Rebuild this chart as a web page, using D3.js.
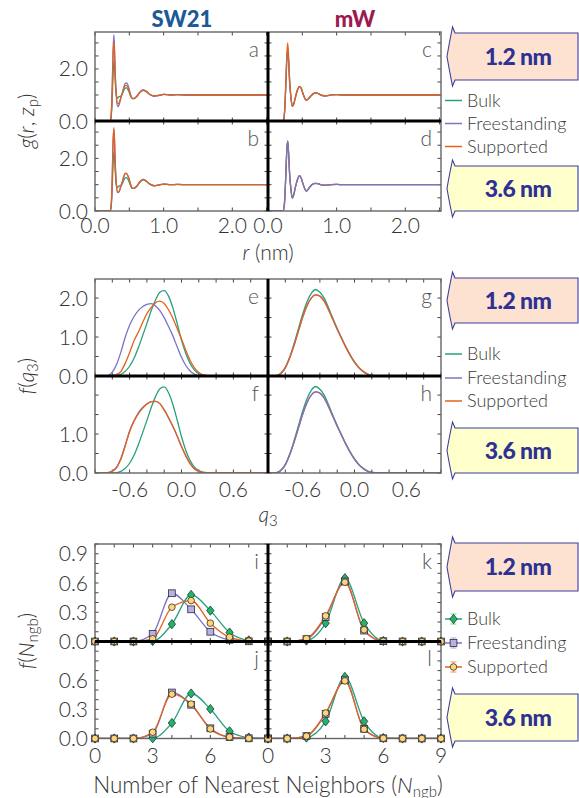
<!DOCTYPE html>
<html><head><meta charset="utf-8">
<script src="https://cdn.jsdelivr.net/npm/d3@7"></script>
<style>body{margin:0;background:#fff} text{font-family:Lato,"Open Sans","DejaVu Sans",sans-serif}</style>
</head><body><svg id="c" width="579" height="798"></svg>
<script>
// ---------- labels ----------
const models = ["SW21", "mW"];
const seriesNames = ["Bulk", "Freestanding", "Supported"];
const sizeLabels = ["1.2 nm", "3.6 nm"];
const panelLetters = [["a","b","c","d"], ["e","f","g","h"], ["i","j","k","l"]];

// ---------- g(r) data ----------
const rSW = [0, 0.22, 0.235, 0.25, 0.262, 0.275, 0.285, 0.295, 0.31, 0.33, 0.35, 0.375, 0.40, 0.42, 0.44, 0.46, 0.49, 0.52, 0.54, 0.57, 0.61, 0.65, 0.70, 0.75, 0.80, 0.86, 0.92, 1.0, 1.1, 1.2, 1.35, 1.6, 2.0, 2.52];
const gSW12Bulk = [0,0,0.15,0.8,1.7,2.3,2.1,1.5,1.0,0.88,0.94,0.96,1.05,1.18,1.26,1.27,1.15,0.95,0.86,0.87,0.95,1.08,1.18,1.12,1.02,0.96,0.98,1.02,1.0,1.01,1.0,1.0,1.0,1.0];
const gSW12Free = [0,0,0.2,1.2,2.6,3.32,2.7,1.8,0.95,0.55,0.62,0.85,1.1,1.3,1.44,1.46,1.3,1.0,0.87,0.86,0.95,1.1,1.2,1.14,1.02,0.96,0.98,1.02,1.0,1.01,1.0,1.0,1.0,1.0];
const gSW12Supp = [0,0,0.2,1.1,2.4,3.08,2.6,1.8,1.05,0.66,0.7,0.9,1.1,1.26,1.36,1.36,1.22,0.98,0.87,0.87,0.95,1.09,1.18,1.13,1.02,0.96,0.98,1.02,1.0,1.01,1.0,1.0,1.0,1.0];
const gSW36Bulk = [0,0,0.15,0.8,1.7,2.25,2.05,1.5,1.0,0.9,0.95,0.97,1.05,1.18,1.26,1.27,1.15,0.95,0.86,0.87,0.95,1.08,1.18,1.12,1.02,0.96,0.98,1.02,1.0,1.01,1.0,1.0,1.0,1.0];
const gSW36Free = [0,0,0.2,1.1,2.5,3.1,2.6,1.8,1.05,0.7,0.72,0.92,1.12,1.3,1.42,1.42,1.26,1.0,0.87,0.86,0.95,1.1,1.2,1.13,1.02,0.96,0.98,1.02,1.0,1.01,1.0,1.0,1.0,1.0];
const gSW36Supp = [0,0,0.2,1.15,2.55,3.17,2.65,1.8,1.05,0.72,0.74,0.93,1.13,1.32,1.44,1.43,1.27,1.0,0.87,0.86,0.95,1.1,1.2,1.13,1.02,0.96,0.98,1.02,1.0,1.01,1.0,1.0,1.0,1.0];

const rMW = [0, 0.22, 0.24, 0.26, 0.275, 0.287, 0.30, 0.315, 0.335, 0.355, 0.375, 0.40, 0.43, 0.456, 0.48, 0.51, 0.54, 0.56, 0.59, 0.63, 0.67, 0.70, 0.74, 0.79, 0.85, 0.92, 1.0, 1.1, 1.2, 1.35, 1.6, 2.0, 2.52];
const gMW12Bulk = [0,0,0.3,1.4,2.4,2.7,2.3,1.5,0.88,0.57,0.65,0.92,1.2,1.32,1.27,1.05,0.85,0.8,0.86,0.98,1.06,1.08,1.04,0.98,0.97,1.0,1.01,1.0,1.0,1.0,1.0,1.0,1.0];
const gMW12Free = [0,0,0.3,1.4,2.4,2.72,2.3,1.5,0.88,0.56,0.65,0.92,1.2,1.32,1.27,1.05,0.85,0.8,0.86,0.98,1.06,1.08,1.04,0.98,0.97,1.0,1.01,1.0,1.0,1.0,1.0,1.0,1.0];
const gMW12Supp = [0,0,0.3,1.5,2.6,3.0,2.5,1.6,0.9,0.57,0.65,0.92,1.2,1.33,1.28,1.05,0.85,0.8,0.86,0.98,1.07,1.09,1.05,0.98,0.97,1.0,1.01,1.0,1.0,1.0,1.0,1.0,1.0];
const gMW36Bulk = [0,0,0.3,1.4,2.35,2.64,2.2,1.4,0.8,0.5,0.62,0.92,1.2,1.33,1.27,1.03,0.82,0.76,0.84,0.98,1.04,1.05,1.03,0.98,0.98,1.0,1.01,1.0,1.0,1.0,1.0,1.0,1.0];
const gMW36Free = [0,0,0.3,1.4,2.36,2.66,2.2,1.4,0.8,0.49,0.62,0.92,1.2,1.34,1.27,1.03,0.82,0.76,0.84,0.98,1.04,1.05,1.03,0.98,0.98,1.0,1.01,1.0,1.0,1.0,1.0,1.0,1.0];
const gMW36Supp = [0,0,0.3,1.4,2.36,2.66,2.2,1.4,0.8,0.49,0.62,0.92,1.2,1.34,1.27,1.03,0.82,0.76,0.84,0.98,1.04,1.05,1.03,0.98,0.98,1.0,1.01,1.0,1.0,1.0,1.0,1.0,1.0];

// ---------- q3 distribution data ----------
const q3 = [-1.0,-0.95,-0.9,-0.85,-0.8,-0.75,-0.7,-0.65,-0.6,-0.55,-0.5,-0.45,-0.4,-0.35,-0.3,-0.25,-0.2,-0.15,-0.1,-0.05,0.0,0.05,0.1,0.15,0.2,0.25,0.3,0.35,0.4,0.5,1.0];
const fSW12Bulk = [0,0,0,0,0,0.01,0.04,0.12,0.25,0.45,0.72,1.03,1.35,1.68,1.95,2.15,2.19,2.05,1.75,1.35,0.92,0.58,0.32,0.15,0.06,0.02,0.005,0,0,0,0];
const fSW12Free = [0,0,0,0.01,0.1,0.3,0.62,1.0,1.3,1.52,1.68,1.78,1.84,1.86,1.8,1.68,1.5,1.27,1.03,0.75,0.48,0.27,0.13,0.05,0.015,0,0,0,0,0,0];
const fSW12Supp = [0,0,0,0,0.01,0.04,0.12,0.33,0.6,0.9,1.12,1.37,1.6,1.76,1.88,1.92,1.86,1.7,1.48,1.22,0.95,0.66,0.4,0.21,0.09,0.03,0.01,0,0,0,0];
const fSW36Bulk = [0,0,0,0,0,0.01,0.04,0.12,0.25,0.45,0.72,1.03,1.35,1.68,1.96,2.16,2.21,2.06,1.76,1.36,0.93,0.58,0.32,0.15,0.06,0.02,0.005,0,0,0,0];
const fSW36Free = [0,0,0,0.01,0.05,0.15,0.38,0.72,1.08,1.34,1.54,1.68,1.77,1.83,1.84,1.78,1.62,1.42,1.2,0.95,0.68,0.44,0.24,0.11,0.04,0.01,0,0,0,0,0];
const fSW36Supp = [0,0,0,0.01,0.04,0.14,0.36,0.7,1.06,1.32,1.52,1.66,1.77,1.83,1.84,1.78,1.62,1.42,1.2,0.95,0.68,0.44,0.24,0.11,0.04,0.01,0,0,0,0,0];
const fMW12Bulk = [0,0,0.01,0.07,0.22,0.48,0.82,1.2,1.58,1.9,2.12,2.22,2.15,2.0,1.75,1.48,1.22,0.98,0.74,0.53,0.35,0.21,0.11,0.05,0.015,0,0,0,0,0,0];
const fMW12Free = [0,0,0.01,0.07,0.21,0.46,0.78,1.14,1.5,1.8,2.0,2.08,2.05,1.92,1.7,1.45,1.2,0.97,0.74,0.54,0.36,0.22,0.12,0.05,0.02,0,0,0,0,0,0];
const fMW12Supp = [0,0,0.01,0.07,0.21,0.46,0.78,1.14,1.5,1.8,2.0,2.08,2.05,1.92,1.7,1.45,1.2,0.97,0.74,0.54,0.36,0.22,0.12,0.05,0.02,0,0,0,0,0,0];
const fMW36Bulk = [0,0,0.01,0.07,0.22,0.48,0.82,1.2,1.58,1.9,2.12,2.22,2.15,2.0,1.75,1.48,1.22,0.98,0.74,0.53,0.35,0.21,0.11,0.05,0.015,0,0,0,0,0,0];
const fMW36Free = [0,0,0.01,0.07,0.21,0.46,0.78,1.14,1.5,1.8,2.0,2.08,2.05,1.92,1.7,1.45,1.2,0.97,0.74,0.54,0.36,0.22,0.12,0.05,0.02,0,0,0,0,0,0];
const fMW36Supp = [0,0,0.01,0.07,0.21,0.46,0.78,1.14,1.5,1.8,2.0,2.08,2.05,1.92,1.7,1.45,1.2,0.97,0.74,0.54,0.36,0.22,0.12,0.05,0.02,0,0,0,0,0,0];

// ---------- nearest-neighbour distribution data ----------
const nNgb = [0,1,2,3,4,5,6,7,8,9];
const nSW12Bulk = [0,0,0,0.005,0.178,0.478,0.317,0.092,0.012,0];
const nSW12Free = [0,0,0,0.079,0.495,0.33,0.10,0.018,0.002,0];
const nSW12Supp = [0,0,0,0.028,0.352,0.42,0.188,0.045,0.005,0];
const nSW36Bulk = [0,0,0,0.003,0.16,0.464,0.304,0.075,0.01,0];
const nSW36Free = [0,0,0,0.05,0.474,0.348,0.105,0.015,0.002,0];
const nSW36Supp = [0,0,0,0.065,0.457,0.355,0.099,0.015,0.002,0];
const nMW12Bulk = [0,0,0.01,0.188,0.649,0.188,0.005,0,0,0];
const nMW12Free = [0,0,0.025,0.25,0.615,0.112,0.003,0,0,0];
const nMW12Supp = [0,0,0.03,0.263,0.608,0.12,0.003,0,0,0];
const nMW36Bulk = [0,0,0.01,0.177,0.635,0.177,0.005,0,0,0];
const nMW36Free = [0,0,0.025,0.255,0.6,0.1,0.002,0,0,0];
const nMW36Supp = [0,0,0.025,0.263,0.594,0.095,0.002,0,0,0];

// ---------- tick labels ----------
const gXTickLabels = ["0.0", "1.0", "2.0"];
const gXTickValues = [0, 1, 2];
const gYTickLabels = ["0.0", "2.0"];
const gYTickValues = [0, 2];
const qXTickLabels = ["-0.6", "0.0", "0.6"];
const qXTickValues = [-0.6, 0, 0.6];
const qYTickLabelsTop = ["0.0", "1.0", "2.0"];
const qYTickValuesTop = [0, 1, 2];
const qYTickLabelsBot = ["0.0", "1.0"];
const qYTickValuesBot = [0, 1];
const nXTickLabelsLeft = ["0", "3", "6"];
const nXTickValuesLeft = [0, 3, 6];
const nXTickLabelsRight = ["0", "3", "6", "9"];
const nXTickValuesRight = [0, 3, 6, 9];
const nYTickLabelsTop = ["0.0", "0.3", "0.6", "0.9"];
const nYTickValuesTop = [0, 0.3, 0.6, 0.9];
const nYTickLabelsBot = ["0.0", "0.3", "0.6"];
const nYTickValuesBot = [0, 0.3, 0.6];

// ---------- style ----------
const lineColors = ["#27a07b", "#7a73c6", "#e3621c"];
const markFill = ["#22b36a", "#b9b0e2", "#fdd67c"];
const errColors = ["#7fe0a0", "#b9b0e2", "#f4a070"];
const titleColors = ["#1a5a96", "#9b1b52"];

const svg = d3.select("#c");
const X0 = 95, XM = 268, X1 = 441;
const defs = svg.append("defs");
let clipId = 0;

const blocks = [
  {key:"g", top:32, mid:121, bot:211, xd:[0,2.52], yd:[0,3.42], xt:0.5, yt:0.5,
   x:[rSW, rMW],
   data:[[[gSW12Bulk,gSW12Free,gSW12Supp],[gSW36Bulk,gSW36Free,gSW36Supp]],
         [[gMW12Bulk,gMW12Free,gMW12Supp],[gMW36Bulk,gMW36Free,gMW36Supp]]],
   order:[[[0,1,2],[0,1,2]],[[0,1,2],[0,2,1]]],
   xl:[[gXTickValues,gXTickLabels],[gXTickValues,gXTickLabels]],
   yl:[[gYTickValues,gYTickLabels],[gYTickValues,gYTickLabels]],
   xlabY:233, legY:[106.5,129.5,152.5], boxes:[[33,80],[166,211]]},
  {key:"q", top:279, mid:376, bot:473, xd:[-1,1], yd:[0,2.49], xt:0.2, yt:0.5,
   x:[q3, q3],
   data:[[[fSW12Bulk,fSW12Free,fSW12Supp],[fSW36Bulk,fSW36Free,fSW36Supp]],
         [[fMW12Bulk,fMW12Free,fMW12Supp],[fMW36Bulk,fMW36Free,fMW36Supp]]],
   order:[[[0,1,2],[0,1,2]],[[0,1,2],[0,2,1]]],
   xl:[[qXTickValues,qXTickLabels],[qXTickValues,qXTickLabels]],
   yl:[[qYTickValuesTop,qYTickLabelsTop],[qYTickValuesBot,qYTickLabelsBot]],
   xlabY:497, legY:[360,384,407], boxes:[[278,323],[428,473]]},
  {key:"n", top:544, mid:641.5, bot:738.5, xd:[0,9], yd:[0,1.0], xt:1, yt:0.1,
   x:[nNgb, nNgb],
   data:[[[nSW12Bulk,nSW12Free,nSW12Supp],[nSW36Bulk,nSW36Free,nSW36Supp]],
         [[nMW12Bulk,nMW12Free,nMW12Supp],[nMW36Bulk,nMW36Free,nMW36Supp]]],
   order:[[[0,1,2],[0,1,2]],[[0,1,2],[0,1,2]]],
   xl:[[nXTickValuesLeft,nXTickLabelsLeft],[nXTickValuesRight,nXTickLabelsRight]],
   yl:[[nYTickValuesTop,nYTickLabelsTop],[nYTickValuesBot,nYTickLabelsBot]],
   xlabY:763, legY:[625,649,673], boxes:[[543,591],[694,741]]}
];

function marker(g, type, cx, cy, fill){
  if (type === 0) {
    const s = 4.6;
    g.append("path").attr("d", `M${cx},${cy-s}L${cx+s*0.8},${cy}L${cx},${cy+s}L${cx-s*0.8},${cy}Z`)
      .attr("fill", fill).attr("stroke", "#1a3a2a").attr("stroke-width", 0.8);
  } else if (type === 1) {
    const s = 3.4;
    g.append("rect").attr("x", cx-s).attr("y", cy-s).attr("width", 2*s).attr("height", 2*s)
      .attr("fill", fill).attr("stroke", "#2a2a3a").attr("stroke-width", 0.8);
  } else {
    g.append("circle").attr("cx", cx).attr("cy", cy).attr("r", 3.3)
      .attr("fill", fill).attr("stroke", "#3a3020").attr("stroke-width", 0.8);
  }
}

blocks.forEach((b, bi) => {
  const G = svg.append("g");
  for (let c = 0; c < 2; c++) {
    for (let r = 0; r < 2; r++) {
      const x0 = c ? XM : X0, x1 = c ? X1 : XM;
      const y0 = r ? b.mid : b.top, y1 = r ? b.bot : b.mid;
      const xs = d3.scaleLinear().domain(b.xd).range([x0, x1]);
      const ys = d3.scaleLinear().domain(b.yd).range([y1, y0]);
      const id = "cp" + (clipId++);
      defs.append("clipPath").attr("id", id).append("rect")
        .attr("x", x0).attr("y", y0 - 1).attr("width", x1 - x0).attr("height", y1 - y0 + 1);
      const pg = G.append("g");
      // ticks (inward, all four sides)
      const xtv = d3.range(b.xd[0], b.xd[1] + 1e-9, b.xt);
      const ytv = d3.range(b.yd[0], b.yd[1] + 1e-9, b.yt);
      const tk = pg.append("g").attr("stroke", "#444").attr("stroke-width", 1);
      xtv.forEach(v => {
        const X = xs(v);
        tk.append("line").attr("x1", X).attr("x2", X).attr("y1", y1).attr("y2", y1 - 3.5);
        tk.append("line").attr("x1", X).attr("x2", X).attr("y1", y0).attr("y2", y0 + 3.5);
      });
      ytv.forEach(v => {
        const Y = ys(v);
        tk.append("line").attr("x1", x0).attr("x2", x0 + 3.5).attr("y1", Y).attr("y2", Y);
        tk.append("line").attr("x1", x1).attr("x2", x1 - 3.5).attr("y1", Y).attr("y2", Y);
      });
      // lines
      const lg = pg.append("g").attr("clip-path", `url(#${id})`);
      const xv = b.x[c];
      const ln = d3.line().x((d, i) => xs(xv[i])).y(d => ys(d)).curve(d3.curveMonotoneX);
      b.order[c][r].forEach(s => {
        lg.append("path").attr("d", ln(b.data[c][r][s])).attr("fill", "none")
          .attr("stroke", lineColors[s]).attr("stroke-width", 1.3)
          .attr("stroke-linejoin", "round");
      });
      // frame
      pg.append("rect").attr("x", x0).attr("y", y0).attr("width", x1 - x0).attr("height", y1 - y0)
        .attr("fill", "none").attr("stroke", "#666").attr("stroke-width", 1.4);
      // markers
      if (b.key === "n") {
        const mg = pg.append("g");
        [0, 1, 2].forEach(s => {
          b.data[c][r][s].forEach((d, i) => marker(mg, s, xs(xv[i]), ys(d), markFill[s]));
        });
      }
      // panel letter
      pg.append("text").attr("x", x1 - 9).attr("y", y0 + 24.5).attr("text-anchor", "end")
        .attr("font-size", 21).attr("font-weight", 300).attr("fill", "#555")
        .text(panelLetters[bi][c * 2 + r]);
      // y tick labels (left column only)
      if (c === 0) {
        const [vals, labs] = b.yl[r];
        vals.forEach((v, k) => {
          pg.append("text").attr("x", 88).attr("y", ys(v) + 7.5).attr("text-anchor", "end")
            .attr("font-size", 21).attr("font-weight", 300).attr("fill", "#333").text(labs[k]);
        });
      }
      // x tick labels (bottom row)
      if (r === 1) {
        const [vals, labs] = b.xl[c];
        vals.forEach((v, k) => {
          pg.append("text").attr("x", xs(v)).attr("y", b.xlabY).attr("text-anchor", "middle")
            .attr("font-size", 21).attr("font-weight", 300).attr("fill", "#333").text(labs[k]);
        });
      }
    }
  }
  // thick dividers
  G.append("line").attr("x1", XM).attr("x2", XM).attr("y1", b.top).attr("y2", b.bot)
    .attr("stroke", "#000").attr("stroke-width", 3);
  G.append("line").attr("x1", X0).attr("x2", X1).attr("y1", b.mid).attr("y2", b.mid)
    .attr("stroke", "#000").attr("stroke-width", 3);

  // legend
  const L = G.append("g");
  seriesNames.forEach((nm, s) => {
    const y = b.legY[s] - 6;
    L.append("line").attr("x1", 445).attr("x2", 462).attr("y1", y).attr("y2", y)
      .attr("stroke", lineColors[s]).attr("stroke-width", 1.5);
    if (b.key === "n") {
      const ex = 453.5;
      L.append("line").attr("x1", ex).attr("x2", ex).attr("y1", y - 5).attr("y2", y + 5).attr("stroke", errColors[s]).attr("stroke-width", 1.2);
      L.append("line").attr("x1", ex - 3).attr("x2", ex + 3).attr("y1", y - 5).attr("y2", y - 5).attr("stroke", errColors[s]).attr("stroke-width", 1.2);
      L.append("line").attr("x1", ex - 3).attr("x2", ex + 3).attr("y1", y + 5).attr("y2", y + 5).attr("stroke", errColors[s]).attr("stroke-width", 1.2);
      marker(L, s, ex, y, markFill[s]);
    }
    L.append("text").attr("x", 467).attr("y", b.legY[s]).attr("font-size", 18).attr("font-weight", 300)
      .attr("fill", "#3a3a3a").text(nm);
  });

  // size boxes
  b.boxes.forEach((yy, k) => {
    const [ya, yb] = yy;
    const xl = 455, xr = 578, ym = (ya + yb) / 2;
    const p = `M${xr},${ya}L${xl},${ya}L${xl-2.5},${ya-6}Q${xl-6},${ym-12} ${xl-8},${ym}Q${xl-6},${ym+12} ${xl-2.5},${yb+6}L${xl},${yb}L${xr},${yb}Z`;
    G.append("path").attr("d", p).attr("fill", k ? "#ffffcc" : "#fde2d2")
      .attr("stroke", "#3b3f9c").attr("stroke-width", 1.1);
    G.append("text").attr("x", 518).attr("y", ym + 8).attr("text-anchor", "middle")
      .attr("font-size", 23).attr("font-weight", 900).attr("fill", "#2e3192").attr("letter-spacing", -0.6)
      .text(sizeLabels[k]);
  });
});

// model titles
models.forEach((m, i) => {
  svg.append("text").attr("x", i ? 355 : 182).attr("y", 26.5).attr("text-anchor", "middle")
    .attr("font-size", 22).attr("font-weight", 900).attr("fill", titleColors[i]).text(m);
});

// axis titles
function addParts(t, parts){
  parts.forEach(p => {
    const ts = t.append("tspan").text(p.t);
    if (p.i) ts.attr("font-style", "italic");
    if (p.sub) ts.attr("font-size", 15).attr("dy", 4);
    if (p.up) ts.attr("dy", -4);
  });
}
function ytitle(cy, parts){
  const t = svg.append("text").attr("transform", `translate(34,${cy}) rotate(-90)`).attr("text-anchor", "middle")
    .attr("font-size", 21).attr("font-weight", 300).attr("fill", "#333");
  addParts(t, parts);
}
ytitle(121, [{t:"g", i:1},{t:"("},{t:"r", i:1},{t:", "},{t:"z", i:1},{t:"p", sub:1},{t:")", up:1}]);
ytitle(376, [{t:"f", i:1},{t:"("},{t:"q", i:1},{t:"3", sub:1},{t:")", up:1}]);
ytitle(641, [{t:"f", i:1},{t:"("},{t:"N", i:1},{t:"ngb", sub:1},{t:")", up:1}]);

function xtitle(y, size, parts){
  const t = svg.append("text").attr("x", 268).attr("y", y).attr("text-anchor", "middle")
    .attr("font-size", size).attr("font-weight", 300).attr("fill", "#333");
  addParts(t, parts);
}
xtitle(260, 21, [{t:"r", i:1},{t:" (nm)"}]);
xtitle(522, 21, [{t:"q", i:1},{t:"3", sub:1}]);
xtitle(792.5, 22.5, [{t:"Number of Nearest Neighbors ("},{t:"N", i:1},{t:"ngb", sub:1},{t:")", up:1}]);
</script></body></html>
